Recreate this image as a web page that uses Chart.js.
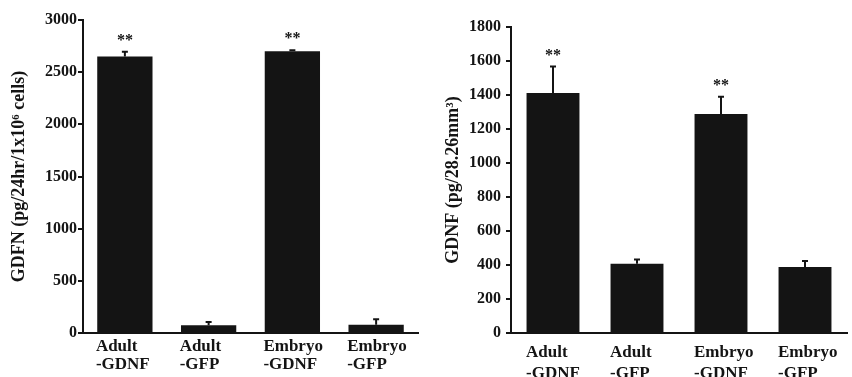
<!DOCTYPE html>
<html>
<head>
<meta charset="utf-8">
<script src="https://cdn.jsdelivr.net/npm/chart.js@4/dist/chart.umd.min.js"></script>
<style>
  html, body { margin: 0; padding: 0; background: #fff; }
  #wrap { position: relative; width: 852px; height: 377px; overflow: hidden; }
  .box { position: absolute; top: 0; height: 377px; }
  #leftBox { left: 0; width: 420px; }
  #rightBox { left: 426px; width: 426px; }
</style>
</head>
<body>
<div id="wrap">
  <div class="box" id="leftBox"><canvas id="releaseChart"></canvas></div>
  <div class="box" id="rightBox"><canvas id="tissueChart"></canvas></div>
</div>
<script>
// categorias compartidas por los dos paneles
const categories = [['Adult', '-GDNF'], ['Adult', '-GFP'], ['Embryo', '-GDNF'], ['Embryo', '-GFP']];
const marks = ['**', '', '**', ''];

// panel izquierdo: GDNF liberado in vitro
const releaseMeans = [2650, 75, 2700, 78];
const releaseErrors = [45, 30, 10, 53];
const releaseTicks = [0, 500, 1000, 1500, 2000, 2500, 3000];

// panel derecho: GDNF en tejido
const tissueMeans = [1412, 408, 1288, 388];
const tissueErrors = [155, 25, 102, 36];
const tissueTicks = [0, 200, 400, 600, 800, 1000, 1200, 1400, 1600, 1800];

const ink = '#141414';
const serif = "'Liberation Serif', 'Times New Roman', serif";

// barras de error (solo hacia arriba) y asteriscos
const errorBars = {
  id: 'errorBars',
  afterDatasetsDraw(chart, args, opts) {
    const { ctx } = chart;
    const y = chart.scales.y;
    const meta = chart.getDatasetMeta(0);
    ctx.save();
    ctx.strokeStyle = ink;
    ctx.fillStyle = ink;
    ctx.lineWidth = 2;
    ctx.font = 'bold 16px ' + serif;
    ctx.textAlign = 'center';
    ctx.textBaseline = 'middle';
    meta.data.forEach((bar, i) => {
      const top = y.getPixelForValue(opts.means[i] + opts.errors[i]);
      ctx.beginPath();
      ctx.moveTo(bar.x, bar.y);
      ctx.lineTo(bar.x, top);
      ctx.moveTo(bar.x - 3, top);
      ctx.lineTo(bar.x + 3, top);
      ctx.stroke();
      if (opts.marks[i]) ctx.fillText(opts.marks[i], bar.x, top - 11);
    });
    ctx.restore();
  }
};

function makeChart(id, means, errors, ticks, title, area) {
  const ctx = document.getElementById(id).getContext('2d');
  return new Chart(ctx, {
    type: 'bar',
    data: {
      labels: categories,
      datasets: [{
        data: means,
        backgroundColor: ink,
        borderWidth: 0,
        barPercentage: area.bar,
        categoryPercentage: 1
      }]
    },
    options: {
      responsive: true,
      maintainAspectRatio: false,
      animation: false,
      layout: { padding: { top: area.top, right: area.right, left: 0, bottom: 0 } },
      plugins: {
        legend: { display: false },
        tooltip: { enabled: false },
        errorBars: { means: means, errors: errors, marks: marks }
      },
      scales: {
        x: {
          grid: { display: false },
          border: { display: true, color: ink, width: 2 },
          ticks: {
            color: ink,
            font: { family: serif, size: 17, weight: 'bold', lineHeight: area.lineHeight },
            align: 'start',
            labelOffset: area.labelShift,
            padding: area.xPad,
            maxRotation: 0,
            autoSkip: false
          },
          afterFit(scale) {
            scale.height = area.xHeight;
            scale.paddingLeft = 0;
            scale.paddingRight = 0;
          }
        },
        y: {
          min: 0,
          max: ticks[ticks.length - 1],
          afterBuildTicks(scale) { scale.ticks = ticks.map(v => ({ value: v })); },
          grid: { drawOnChartArea: false, drawTicks: true, tickLength: 5, color: ink, lineWidth: 2 },
          border: { display: true, color: ink, width: 2 },
          ticks: {
            color: ink,
            font: { family: serif, size: 16, weight: 'bold' },
            padding: area.yPad,
            callback: v => String(v)
          },
          title: {
            display: true,
            text: title,
            color: ink,
            font: { family: serif, size: 18, weight: 'bold' },
            padding: { top: area.titlePad, bottom: 0 }
          },
          afterFit(scale) { scale.width = area.yWidth; }
        }
      }
    },
    plugins: [errorBars]
  });
}

makeChart('releaseChart', releaseMeans, releaseErrors, releaseTicks,
  'GDFN (pg/24hr/1x10\u2076 cells)',
  { top: 20, right: 2, yWidth: 83, xHeight: 44, bar: 0.66, labelShift: -29, xPad: -3, lineHeight: 1.05, yPad: 1, titlePad: 9 });

makeChart('tissueChart', tissueMeans, tissueErrors, tissueTicks,
  'GDNF (pg/28.26mm\u00b3)',
  { top: 27, right: 5, yWidth: 85, xHeight: 44, bar: 0.63, labelShift: -27, xPad: 1, lineHeight: 1.25, yPad: 5, titlePad: 17 });
</script>
</body>
</html>
